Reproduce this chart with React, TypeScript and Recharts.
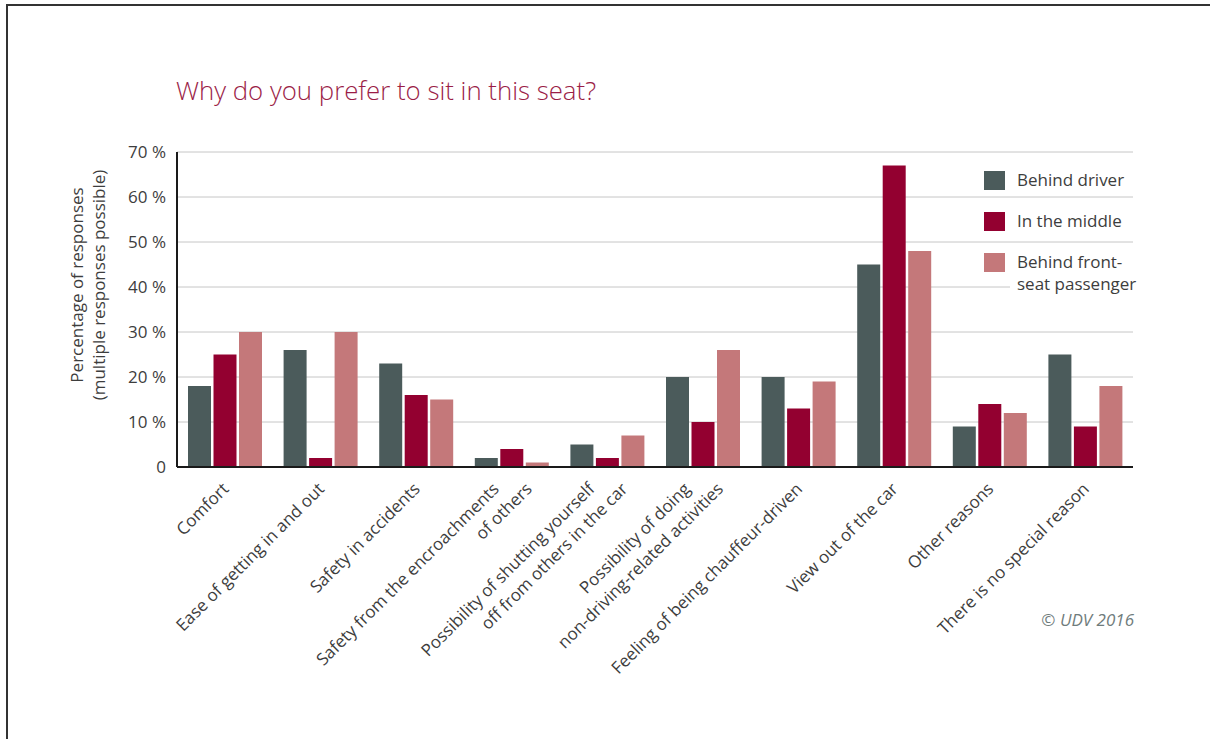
import React from 'react';
import { BarChart, Bar, XAxis, YAxis, CartesianGrid } from 'recharts';

// categories (\n = manual line break in the rotated tick label)
const categories = [
  'Comfort',
  'Ease of getting in and out',
  'Safety in accidents',
  'Safety from the encroachments\nof others',
  'Possibility of shutting yourself\noff from others in the car',
  'Possibility of doing\nnon-driving-related activities',
  'Feeling of being chauffeur-driven',
  'View out of the car',
  'Other reasons',
  'There is no special reason',
];

// values in %
const behindDriver = [18, 26, 23, 2, 5, 20, 20, 45, 9, 25];
const inTheMiddle = [25, 2, 16, 4, 2, 10, 13, 67, 14, 9];
const behindFrontSeat = [30, 30, 15, 1, 7, 26, 19, 48, 12, 18];

const yTicks = [0, 10, 20, 30, 40, 50, 60, 70];
const seriesNames = ['Behind driver', 'In the middle', 'Behind front-\nseat passenger'];
const seriesKeys = ['driver', 'middle', 'front'];

const COLORS = ['#4b5b5b', '#930030', '#c4787a'];
const FONT = '"Open Sans", sans-serif';
const TEXT = '#3d3d3d';

const data = categories.map((name, i) => ({
  name,
  driver: behindDriver[i],
  middle: inTheMiddle[i],
  front: behindFrontSeat[i],
}));

function CategoryTick(props: any) {
  const { x, y, payload } = props;
  const lines = String(payload.value).split('\n');
  return (
    <g>
      {lines.map((line, i) => {
        const ax = x + 5 + (i - (lines.length - 1) / 2) * 33;
        const ay = y + 23;
        return (
          <text
            key={i}
            x={ax}
            y={ay}
            transform={`rotate(-45 ${ax} ${ay})`}
            textAnchor="end"
            fontSize={17}
            fill={TEXT}
            fontFamily={FONT}
          >
            {line}
          </text>
        );
      })}
    </g>
  );
}

function ChartLegend() {
  return (
    <>
      {seriesNames.map((name, i) => {
        const top = 171 + i * 41;
        return (
          <React.Fragment key={name}>
            <div
              style={{ position: 'absolute', left: 984, top, width: 21, height: 19, background: COLORS[i] }}
            />
            <div
              style={{
                position: 'absolute',
                left: 1010,
                top: top - 2,
                paddingLeft: 7,
                background: '#fff',
                fontFamily: FONT,
                fontSize: 17,
                lineHeight: '22px',
                color: TEXT,
                whiteSpace: 'pre',
              }}
            >
              {name}
            </div>
          </React.Fragment>
        );
      })}
    </>
  );
}

export default function App() {
  return (
    <div
      style={{
        position: 'absolute',
        left: 0,
        top: 0,
        width: 1210,
        height: 739,
        background: '#fff',
        overflow: 'hidden',
      }}
    >
      <div
        style={{
          position: 'absolute',
          left: 6,
          top: 4,
          right: -20,
          bottom: -20,
          borderTop: '2px solid #333',
          borderLeft: '2px solid #333',
        }}
      />
      <BarChart
        width={1210}
        height={739}
        data={data}
        margin={{ top: 152, right: 77, left: 77, bottom: 122 }}
        barSize={23}
        barGap={2.5}
      >
        <CartesianGrid vertical={false} stroke="#c6c6c6" />
        <XAxis
          dataKey="name"
          interval={0}
          height={150}
          tickLine={false}
          tickSize={0}
          tickMargin={0}
          axisLine={{ stroke: '#1a1a1a', strokeWidth: 2 }}
          tick={<CategoryTick />}
        />
        <YAxis
          width={100}
          domain={[0, 70]}
          ticks={yTicks}
          interval={0}
          tickLine={false}
          tickSize={0}
          tickMargin={11}
          axisLine={{ stroke: '#1a1a1a', strokeWidth: 2 }}
          tickFormatter={(v: number) => (v === 0 ? '0' : `${v} %`)}
          tick={{ fontSize: 17, fill: TEXT, fontFamily: FONT }}
        />
        {seriesKeys.map((k, i) => (
          <Bar key={k} dataKey={k} name={seriesNames[i]} fill={COLORS[i]} isAnimationActive={false} />
        ))}
      </BarChart>
      <svg
        width={1210}
        height={739}
        style={{ position: 'absolute', left: 0, top: 0, pointerEvents: 'none' }}
      >
        <text
          x={176}
          y={100}
          fontSize={26}
          fontWeight={300}
          fill="#9b1d47"
          fontFamily={FONT}
          textLength={420}
          lengthAdjust="spacingAndGlyphs"
        >
          Why do you prefer to sit in this seat?
        </text>
        <text
          x={83}
          y={285}
          transform="rotate(-90 83 285)"
          textAnchor="middle"
          fontSize={17}
          fill={TEXT}
          fontFamily={FONT}
        >
          Percentage of responses
        </text>
        <text
          x={105}
          y={285}
          transform="rotate(-90 105 285)"
          textAnchor="middle"
          fontSize={17}
          fill={TEXT}
          fontFamily={FONT}
        >
          (multiple responses possible)
        </text>
        <text
          x={1134}
          y={626}
          textAnchor="end"
          fontSize={17}
          fontStyle="italic"
          fill="#6f7c7c"
          fontFamily={FONT}
        >
          © UDV 2016
        </text>
      </svg>
      <ChartLegend />
    </div>
  );
}
